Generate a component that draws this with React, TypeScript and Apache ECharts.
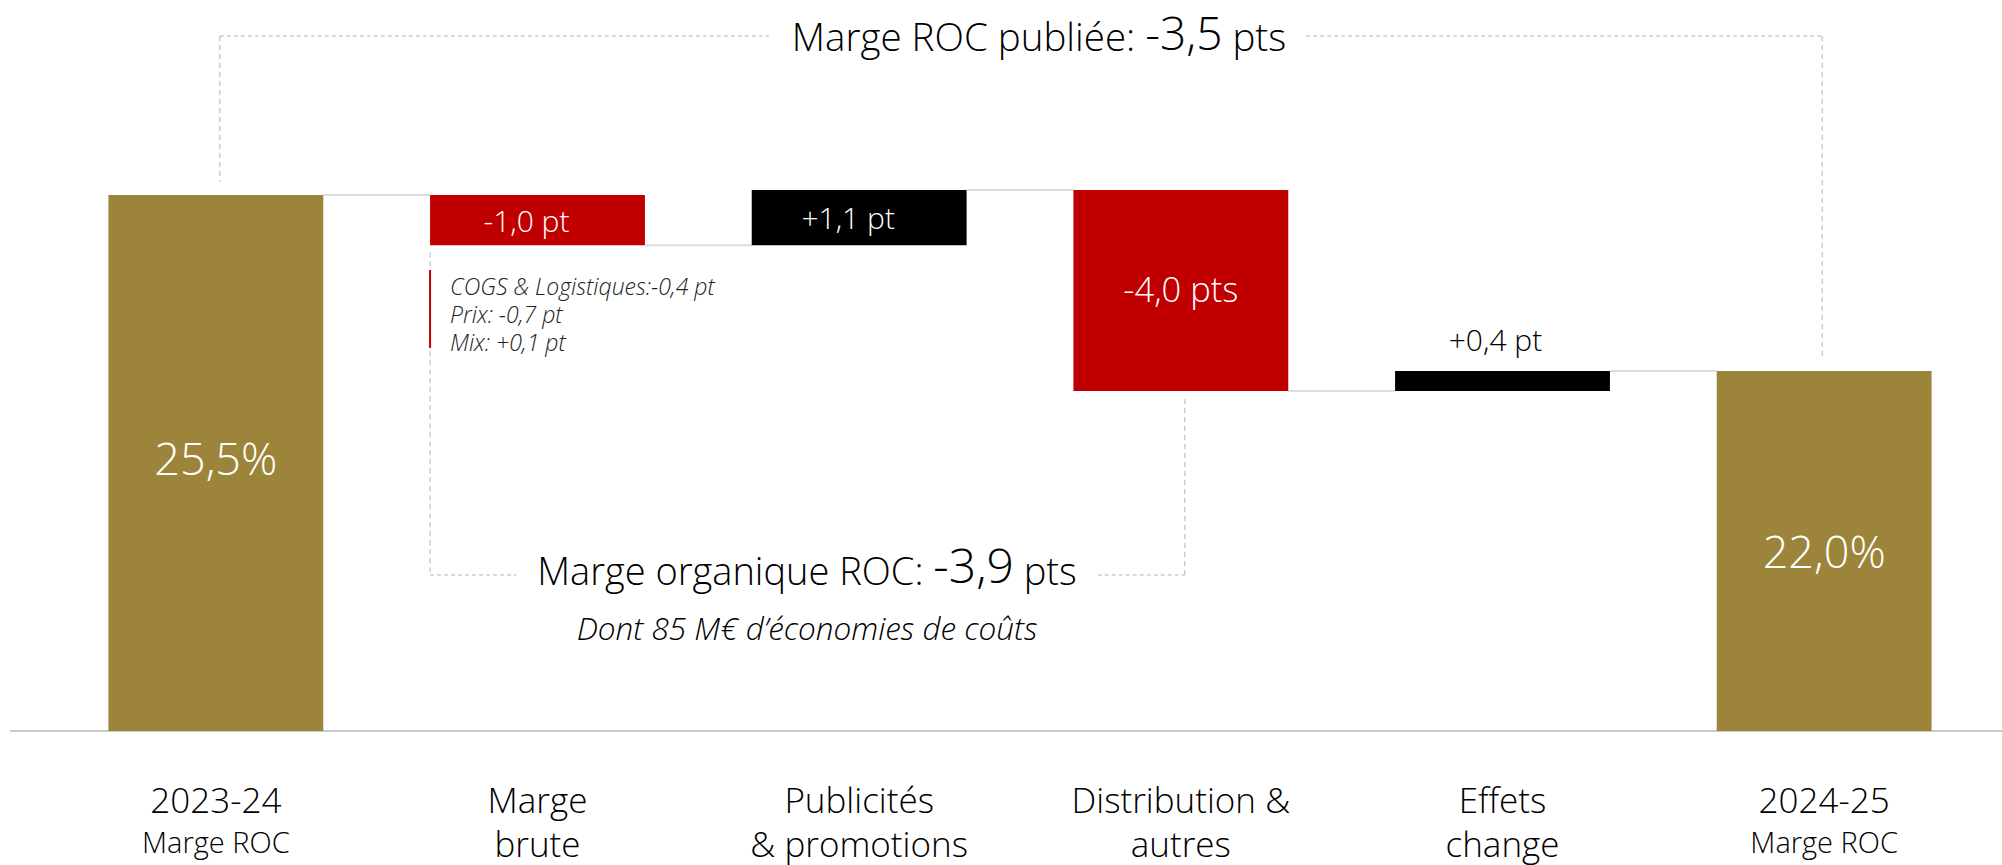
import React, { useEffect, useRef } from 'react';
import * as echarts from 'echarts';

// ---------- data ----------
const categoryLine1 = ['2023-24', 'Marge', 'Publicités', 'Distribution &', 'Effets', '2024-25'];
const categoryLine2 = ['Marge ROC', 'brute', '& promotions', 'autres', 'change', 'Marge ROC'];
const startMargin = 25.5;
const deltas = [-1.0, 1.1, -4.0, 0.4];
const endMargin = 22.0;
const grossMarginDetail = ['COGS & Logistiques:-0,4 pt', 'Prix: -0,7 pt', 'Mix: +0,1 pt'];
const organicNote = 'Dont 85 M€ d’économies de coûts';
const publishedTitle = 'Marge ROC publiée: ';
const organicTitle = 'Marge organique ROC: ';
const axisFloor = 14.84;
const axisCeil = 29;

// ---------- derived ----------
const values = [startMargin, ...deltas, endMargin];
const nCat = values.length;
const baseData: number[] = [];
const heightData: number[] = [];
const levels: number[] = [];
{
  let lvl = 0;
  values.forEach((v, i) => {
    if (i === 0 || i === nCat - 1) {
      baseData.push(0);
      heightData.push(v);
      lvl = v;
    } else {
      const next = lvl + v;
      baseData.push(Math.min(lvl, next));
      heightData.push(Math.abs(v));
      lvl = next;
    }
    levels.push(lvl);
  });
}
const fmt = (v: number) => v.toFixed(1).replace('.', ',');
const deltaLabel = (v: number) => (v > 0 ? '+' : '') + fmt(v) + ' ' + (Math.abs(v) >= 2 ? 'pts' : 'pt');
const publishedChange = endMargin - startMargin;
const organicChange = deltas.slice(0, deltas.length - 1).reduce((a, b) => a + b, 0);

const GOLD = '#9C843A';
const RED = '#C00000';
const BLACK = '#000000';
const FONT = '"Open Sans", sans-serif';
const WEIGHT = 300;
const BAR_FRAC = 0.668;

export default function App() {
  const ref = useRef<HTMLDivElement>(null);
  useEffect(() => {
    if (!ref.current) return;
    const chart = echarts.init(ref.current, null, { renderer: 'svg' });

    const barItems = heightData.map((h, i) => {
      const isTotal = i === 0 || i === nCat - 1;
      const v = values[i];
      const color = isTotal ? GOLD : v < 0 ? RED : BLACK;
      const small = !isTotal && Math.abs(v) < 0.5;
      return {
        value: h,
        itemStyle: { color },
        label: {
          show: true,
          position: small ? 'top' : 'inside',
          distance: 16,
          offset: isTotal ? (i === 0 ? [0, -5] : [0, 0]) : Math.abs(v) >= 2 ? [0, -2] : small ? [-7, 0] : [-11, 0],
          color: small ? '#000' : '#fff',
          fontFamily: FONT,
          fontWeight: WEIGHT,
          fontSize: isTotal ? 45 : Math.abs(v) >= 2 ? 34.5 : 30,
          formatter: isTotal ? fmt(v) + '%' : deltaLabel(v),
        },
      };
    });

    const option: any = {
      animation: false,
      grid: { left: 55, right: 17, top: 19, bottom: 134, containLabel: false, outerBoundsMode: 'none' },
      xAxis: {
        type: 'category',
        data: categoryLine1,
        axisLine: { show: false },
        axisTick: { show: false },
        splitLine: { show: false },
        axisLabel: {
          interval: 0,
          margin: 46,
          formatter: (_: string, idx: number) => {
            const isTotal = idx === 0 || idx === nCat - 1;
            return `{a|${categoryLine1[idx]}}\n{${isTotal ? 'b' : 'a'}|${categoryLine2[idx]}}`;
          },
          rich: {
            a: { fontSize: 35, lineHeight: 44, fontFamily: FONT, fontWeight: WEIGHT, color: '#000' },
            b: { fontSize: 29, lineHeight: 40, fontFamily: FONT, fontWeight: WEIGHT, color: '#000' },
          },
        },
      },
      yAxis: { type: 'value', min: axisFloor, max: axisCeil, show: false, splitLine: { show: false } },
      series: [
        {
          type: 'bar',
          stack: 'w',
          data: baseData,
          barWidth: BAR_FRAC * 100 + '%',
          itemStyle: { color: 'rgba(0,0,0,0)' },
          silent: true,
        },
        {
          type: 'bar',
          stack: 'w',
          data: barItems,
          barWidth: BAR_FRAC * 100 + '%',
          clip: true,
        },
        {
          type: 'custom',
          silent: true,
          data: levels.slice(0, nCat - 1).map((l, i) => [i, l]),
          encode: { x: 0, y: 1 },
          renderItem: (_p: any, api: any) => {
            const i = api.value(0);
            const l = api.value(1);
            const p = api.coord([i, l]);
            const w = api.size([1, 0])[0];
            const half = (w * BAR_FRAC) / 2;
            return {
              type: 'line',
              shape: { x1: p[0] + half, y1: p[1], x2: p[0] + w - half, y2: p[1] },
              style: { stroke: '#dcdcdc', lineWidth: 2 },
            };
          },
        },
      ],
    };
    chart.setOption(option);

    // ---- annotations ----
    const px = (i: number, v: number) => chart.convertToPixel({ xAxisIndex: 0, yAxisIndex: 0 }, [i, v]) as number[];
    const c = values.map((_, i) => px(i, axisFloor)[0]);
    const catW = c[1] - c[0];
    const barW = catW * BAR_FRAC;
    const baseY = px(0, axisFloor)[1];
    const top0 = px(0, startMargin)[1];
    const topLast = px(nCat - 1, endMargin)[1];
    const bar2Left = c[1] - barW / 2;
    const bar2Bottom = px(1, levels[1])[1];
    const bar4Bottom = px(3, levels[3])[1];

    const ctx = document.createElement('canvas').getContext('2d')!;
    const measure = (t: string, size: number) => {
      ctx.font = `normal ${WEIGHT} ${size}px "Open Sans"`;
      return ctx.measureText(t).width;
    };
    const mkRich = (sa: number, la: number, sb: number, lb: number) => ({
      a: { fontSize: sa, lineHeight: la, fontFamily: FONT, fontWeight: WEIGHT, color: '#000', verticalAlign: 'bottom' },
      b: { fontSize: sb, lineHeight: lb, fontFamily: FONT, fontWeight: WEIGHT, color: '#000', verticalAlign: 'bottom' },
    });
    const titleW = (pre: string, val: string, sa: number, sb: number) =>
      measure(pre, sa) + measure(val, sb) + measure(' pts', sa);

    const dashStyle = { stroke: '#b3b3b3', lineWidth: 1, lineDash: [5, 4] };
    const dotStyle = { stroke: '#b3b3b3', lineWidth: 1, lineDash: [4, 3] };

    // top bracket
    const topY = 36;
    const topCenter = 1039;
    const pubVal = fmt(publishedChange);
    const tw = titleW(publishedTitle, pubVal, 38.5, 46);
    const leftX = c[0] + 4;
    const rightX = c[nCat - 1] - 2;
    // bottom bracket
    const botY = 575;
    const botCenter = 807;
    const orgVal = fmt(organicChange);
    const bw = titleW(organicTitle, orgVal, 38, 48);
    const bRightX = c[3] + 4;

    const graphic: any[] = [
      { type: 'line', silent: true, shape: { x1: 10, y1: baseY, x2: 2002, y2: baseY }, style: { stroke: '#b8b8b8', lineWidth: 1.5 } },
      { type: 'line', silent: true, shape: { x1: leftX, y1: topY, x2: leftX, y2: top0 - 13 }, style: dashStyle },
      { type: 'line', silent: true, shape: { x1: leftX, y1: topY, x2: topCenter - tw / 2 - 23, y2: topY }, style: dotStyle },
      { type: 'line', silent: true, shape: { x1: topCenter + tw / 2 + 20, y1: topY, x2: rightX, y2: topY }, style: dotStyle },
      { type: 'line', silent: true, shape: { x1: rightX, y1: topY, x2: rightX, y2: topLast - 12 }, style: dashStyle },
      {
        type: 'text', silent: true, x: topCenter, y: 31.9,
        style: { text: `{a|${publishedTitle}}{b|${pubVal}}{a| pts}`, rich: mkRich(38.5, 41, 46, 47), align: 'center', verticalAlign: 'middle' },
      },
      { type: 'line', silent: true, shape: { x1: bar2Left, y1: bar2Bottom + 7, x2: bar2Left, y2: botY }, style: dashStyle },
      { type: 'line', silent: true, shape: { x1: bar2Left, y1: botY, x2: botCenter - bw / 2 - 21, y2: botY }, style: dotStyle },
      { type: 'line', silent: true, shape: { x1: botCenter + bw / 2 + 21, y1: botY, x2: bRightX, y2: botY }, style: dotStyle },
      { type: 'line', silent: true, shape: { x1: bRightX, y1: botY, x2: bRightX, y2: bar4Bottom + 8 }, style: dashStyle },
      {
        type: 'text', silent: true, x: botCenter, y: 564.7,
        style: { text: `{a|${organicTitle}}{b|${orgVal}}{a| pts}`, rich: mkRich(38, 40, 48, 48), align: 'center', verticalAlign: 'middle' },
      },
      {
        type: 'text', silent: true, x: botCenter, y: 627,
        style: { text: organicNote, fontFamily: FONT, fontWeight: WEIGHT, fontStyle: 'italic', fontSize: 31.5, fill: '#000', align: 'center', verticalAlign: 'middle' },
      },
      { type: 'line', silent: true, z: 100, shape: { x1: bar2Left, y1: 270, x2: bar2Left, y2: 348 }, style: { stroke: RED, lineWidth: 2 } },
      {
        type: 'text', silent: true, x: bar2Left + 20, y: 272,
        style: {
          text: grossMarginDetail.join('\n'), fontFamily: FONT, fontWeight: WEIGHT, fontStyle: 'italic', fontSize: 23, lineHeight: 28,
          fill: '#222', align: 'left', verticalAlign: 'top',
        },
      },
    ];
    chart.setOption({ graphic });

    return () => chart.dispose();
  }, []);
  return <div ref={ref} style={{ position: 'absolute', left: 0, top: 0, width: 2002, height: 865 }} />;
}
